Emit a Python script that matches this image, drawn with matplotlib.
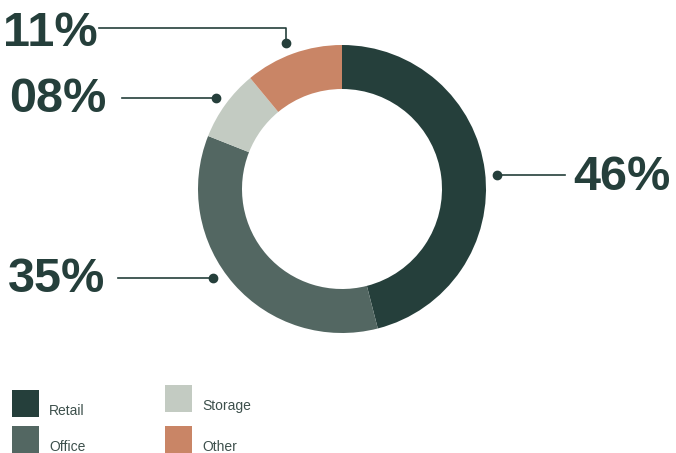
import matplotlib
matplotlib.use("Agg")
import matplotlib.pyplot as plt
from matplotlib.patches import Rectangle

# data
labels = ["Retail", "Office", "Storage", "Other"]
shares = [46, 35, 8, 11]
pct_text = ["46%", "35%", "08%", "11%"]
colors = ["#253f3b", "#536762", "#c3cbc2", "#c98566"]

W, H = 676, 453
dark = "#253f3b"

fig = plt.figure(figsize=(W / 100, H / 100), dpi=100)
ax = fig.add_axes([0, 0, 1, 1])

def py(y):  # pixel row -> data y
    return H - y

cx, cy, R = 342, 189, 144
ax.pie(shares, colors=colors, startangle=90, counterclock=False,
       center=(cx, py(cy)), radius=R, frame=True,
       wedgeprops=dict(width=44, linewidth=0))
ax.set_xlim(0, W)
ax.set_ylim(0, H)
ax.set_aspect("equal")
ax.axis("off")

tfont = dict(family="Liberation Sans", weight="bold", size=35, color=dark)
# 46%
ax.plot([497, 565], [py(175), py(175)], color=dark, lw=1.2)
ax.plot(497, py(175), "o", color=dark, ms=6)
ax.text(573, py(177), pct_text[0], ha="left", va="center", **tfont)
# 35%
ax.plot([118, 213], [py(278), py(278)], color=dark, lw=1.2)
ax.plot(213, py(278), "o", color=dark, ms=6)
ax.text(8, py(279), pct_text[1], ha="left", va="center", **tfont)
# 08%
ax.plot([122, 216], [py(98), py(98)], color=dark, lw=1.2)
ax.plot(216, py(98), "o", color=dark, ms=6)
ax.text(9, py(99), pct_text[2], ha="left", va="center", **tfont)
# 11%
ax.plot([99, 286, 286], [py(28), py(28), py(43)], color=dark, lw=1.2)
ax.plot(286, py(43), "o", color=dark, ms=6)
ax.text(3, py(34), pct_text[3], ha="left", va="center", **tfont)

# legend
leg_pos = [(12, 390), (12, 426), (165, 385), (165, 426)]
for (lx, ly), lab, c in zip(leg_pos, labels, colors):
    ax.add_patch(Rectangle((lx, py(ly + 27)), 27, 27, color=c, lw=0))
    ax.text(lx + 37, py(ly + 21), lab, ha="left", va="center",
            family="Liberation Sans", size=10, color="#3d504c")

fig.savefig("out.png", dpi=100)
